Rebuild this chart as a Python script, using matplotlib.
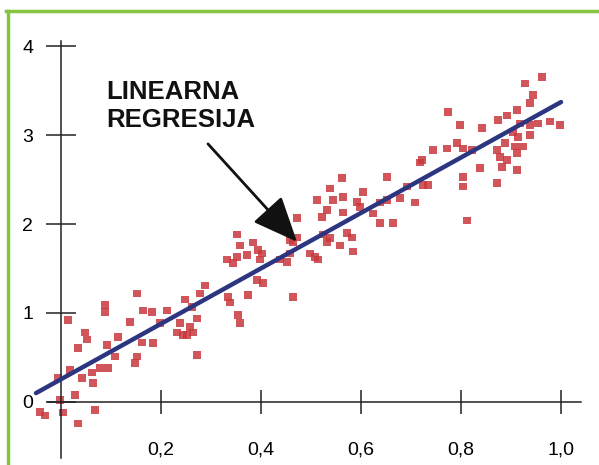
import matplotlib.pyplot as plt
from matplotlib.lines import Line2D

plt.rcParams['font.family'] = ['Liberation Sans', 'DejaVu Sans']

# scatter data
x_pts = [
    0.152, 0.088, 0.088, 0.014, 0.138, 0.164, 0.182, 0.212, 0.048, 0.052,
    0.034, 0.114, 0.092, 0.162, 0.184, 0.152, 0.148, 0.108, 0.078, 0.094,
    0.062, 0.064, 0.042, 0.018, -0.006, 0.028, -0.002, -0.042, 0.004, 0.068,
    0.034, -0.032, 0.248, 0.262, 0.238, 0.258, 0.272, 0.232, 0.252, 0.264,
    0.244, 0.272, 0.278, 0.288, 0.334, 0.338, 0.374, 0.354, 0.358, 0.332,
    0.352, 0.344, 0.352, 0.358, 0.372, 0.384, 0.402, 0.392, 0.404, 0.464,
    0.452, 0.438, 0.464, 0.472, 0.394, 0.398, 0.198, 0.562, 0.538, 0.652,
    0.512, 0.544, 0.564, 0.604, 0.592, 0.598, 0.532, 0.522, 0.564, 0.472,
    0.624, 0.638, 0.652, 0.638, 0.664, 0.678, 0.708, 0.718, 0.724, 0.692,
    0.524, 0.538, 0.572, 0.582, 0.532, 0.558, 0.584, 0.498, 0.508, 0.514,
    0.458, 0.458, 0.962, 0.928, 0.944, 0.938, 0.774, 0.798, 0.842, 0.874,
    0.892, 0.912, 0.918, 0.938, 0.954, 0.978, 0.998, 0.904, 0.914, 0.938,
    0.888, 0.908, 0.924, 0.872, 0.878, 0.892, 0.912, 0.882, 0.912, 0.872,
    0.838, 0.804, 0.804, 0.812, 0.744, 0.772, 0.792, 0.804, 0.822, 0.722,
    0.734,
]
y_pts = [
    1.22, 1.09, 1.01, 0.92, 0.90, 1.03, 1.01, 1.03, 0.78, 0.70,
    0.61, 0.73, 0.64, 0.67, 0.66, 0.51, 0.44, 0.51, 0.38, 0.38,
    0.33, 0.21, 0.27, 0.36, 0.27, 0.08, 0.02, -0.11, -0.12, -0.09,
    -0.24, -0.15, 1.15, 1.07, 0.89, 0.84, 0.94, 0.78, 0.75, 0.78,
    0.75, 0.53, 1.22, 1.31, 1.18, 1.12, 1.20, 0.98, 0.89, 1.60,
    1.63, 1.56, 1.88, 1.76, 1.65, 1.79, 1.67, 1.37, 1.34, 1.18,
    1.57, 1.60, 1.79, 1.85, 1.71, 1.60, 0.89, 2.52, 2.40, 2.53,
    2.27, 2.27, 2.30, 2.36, 2.25, 2.19, 2.16, 2.08, 2.13, 2.07,
    2.12, 2.24, 2.27, 2.01, 2.01, 2.29, 2.24, 2.69, 2.44, 2.42,
    1.88, 1.84, 1.90, 1.85, 1.80, 1.76, 1.69, 1.67, 1.63, 1.60,
    1.82, 1.67, 3.65, 3.58, 3.45, 3.36, 3.26, 3.11, 3.08, 3.17,
    3.22, 3.28, 3.13, 3.11, 3.13, 3.15, 3.11, 3.03, 2.98, 3.00,
    2.91, 2.87, 2.87, 2.83, 2.75, 2.72, 2.80, 2.64, 2.61, 2.46,
    2.63, 2.53, 2.42, 2.04, 2.83, 2.85, 2.91, 2.85, 2.83, 2.72,
    2.44,
]

# regression line end points
line_x = [-0.05, 1.0]
line_y = [0.10, 3.37]

x_ticks = [0.2, 0.4, 0.6, 0.8, 1.0]
x_labels = ["0,2", "0,4", "0,6", "0,8", "1,0"]
y_ticks = [0, 1, 2, 3, 4]
y_labels = ["0", "1", "2", "3", "4"]

fig = plt.figure(figsize=(5.99, 4.65), dpi=100)
ax = fig.add_axes((0, 0, 1, 1))
ax.set_xlim(-0.122, 1.076)
ax.set_ylim(-0.708, 4.517)

ax.scatter(x_pts, y_pts, marker='s', s=30, color='#c8383e', alpha=0.85,
           edgecolors='none', zorder=2)
ax.plot(line_x, line_y, color='#2c3580', lw=3.2, solid_capstyle='round', zorder=3)

# axes crossing at the origin
for side in ['top', 'right']:
    ax.spines[side].set_visible(False)
ax.spines['left'].set_position(('data', 0))
ax.spines['bottom'].set_position(('data', 0))
ax.spines['left'].set_bounds(-0.63, 4.06)
ax.spines['bottom'].set_bounds(-0.026, 1.04)
for side in ['left', 'bottom']:
    ax.spines[side].set_color('#222222')
    ax.spines[side].set_linewidth(1.1)

ax.set_xticks(x_ticks, x_labels)
ax.set_yticks(y_ticks, y_labels)
ax.tick_params(axis='x', direction='inout', length=17, width=1.1,
               color='#222222', labelsize=14, pad=20)
ax.tick_params(axis='y', direction='inout', length=22, width=1.1,
               color='#222222', labelsize=14, pad=9)

ax.text(0.09, 3.62, "LINEARNA\nREGRESIJA", fontsize=18.5, fontweight='bold',
        ha='left', va='top', linespacing=1.2, color='#111111')
ax.annotate("", xy=(0.472, 1.80), xytext=(0.294, 2.90),
            arrowprops=dict(arrowstyle='-|>,head_length=1.4,head_width=0.6',
                            lw=2, color='#111111', mutation_scale=20,
                            shrinkA=0, shrinkB=0))

# green frame on top and left
green = '#86c440'
fig.add_artist(Line2D([7.5 / 599, 7.5 / 599], [0, 1 - 11 / 465],
                      transform=fig.transFigure, color=green, lw=2.5))
fig.add_artist(Line2D([6 / 599, 1], [1 - 11 / 465, 1 - 11 / 465],
                      transform=fig.transFigure, color=green, lw=2.5))

fig.savefig("out.png", dpi=100)
